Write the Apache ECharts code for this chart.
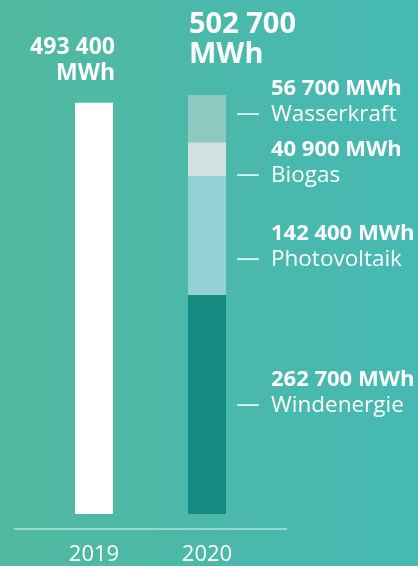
<!DOCTYPE html>
<html><head><meta charset="utf-8">
<script src="https://cdn.jsdelivr.net/npm/echarts@6/dist/echarts.min.js"></script>
<style>html,body{margin:0;padding:0;}#c{width:418px;height:566px;}</style>
</head><body><div id="c"></div>
<script>
const years = ['2019', '2020'];
const total2019 = [493400, '-'];
const wind = ['-', 262700];
const pv = ['-', 142400];
const biogas = ['-', 40900];
const wasser = ['-', 56700];
const totals = [493400, 502700];
const totalLabels = ['493 400\nMWh', '502 700\nMWh'];
const segNames = ['Windenergie', 'Photovoltaik', 'Biogas', 'Wasserkraft'];
const segValueLabels = ['262 700 MWh', '142 400 MWh', '40 900 MWh', '56 700 MWh'];

const FONT = 'Open Sans';
const chart = echarts.init(document.getElementById('c'), null, {renderer: 'canvas'});

function segLabel(i, dy) {
  return {
    show: true, position: 'right', distance: 10, offset: [0, dy],
    formatter: '{s|}{v|' + segValueLabels[i] + '}\n{d|—}{n|' + segNames[i] + '}',
    rich: {
      s: {width: 35, lineHeight: 26},
      v: {fontFamily: FONT, fontWeight: 'bold', fontSize: 22, color: '#ffffff', lineHeight: 26},
      d: {width: 35, fontFamily: 'DejaVu Sans', fontSize: 24, color: 'rgba(255,255,255,0.85)', lineHeight: 26},
      n: {fontFamily: FONT, fontSize: 22.5, color: '#ffffff', lineHeight: 26}
    }
  };
}

function segSeries(name, data, color, i, dy) {
  return {
    name: name, type: 'bar', stack: 'a', barWidth: 38, data: data,
    itemStyle: {color: color}, label: segLabel(i, dy), silent: true
  };
}

chart.setOption({
  backgroundColor: new echarts.graphic.LinearGradient(0, 0, 1, 0, [
    {offset: 0, color: '#51b9a0'}, {offset: 1, color: '#45b9b3'}
  ]),
  animation: false,
  grid: {left: 37.5, right: 154.5, top: 95, bottom: 51.3},
  xAxis: {
    type: 'category', data: years,
    axisLine: {show: false}, axisTick: {show: false},
    axisLabel: {color: '#ffffff', fontFamily: FONT, fontSize: 22, margin: 30}
  },
  yAxis: {type: 'value', min: 0, max: 'dataMax', show: false},
  graphic: [{
    type: 'line', shape: {x1: 14, y1: 529, x2: 287, y2: 529},
    style: {stroke: 'rgba(255,255,255,0.85)', lineWidth: 1.2}
  }],
  series: [
    {name: '2019', type: 'bar', stack: 'a', barWidth: 38, data: total2019,
     itemStyle: {color: '#ffffff'}, silent: true},
    segSeries('Windenergie', wind, '#148a80', 0, -12),
    segSeries('Photovoltaik', pv, '#94d1d7', 1, 11),
    segSeries('Biogas', biogas, '#d3e2e0', 2, 3),
    segSeries('Wasserkraft', wasser, '#8ecac0', 3, -17),
    {
      name: 'Summe', type: 'scatter', symbolSize: 0, silent: true,
      itemStyle: {opacity: 1},
      data: [
        {value: totals[0], label: {show: true, position: 'inside', align: 'right', verticalAlign: 'middle',
          offset: [21, -42], formatter: totalLabels[0], color: '#ffffff', opacity: 1, fontFamily: FONT,
          fontWeight: 'bold', fontSize: 23, lineHeight: 26}},
        {value: totals[1], label: {show: true, position: 'inside', align: 'left', verticalAlign: 'middle',
          offset: [-18, -55], formatter: totalLabels[1], color: '#ffffff', opacity: 1, fontFamily: FONT,
          fontWeight: 'bold', fontSize: 29, lineHeight: 30}}
      ]
    }
  ]
});
</script></body></html>
